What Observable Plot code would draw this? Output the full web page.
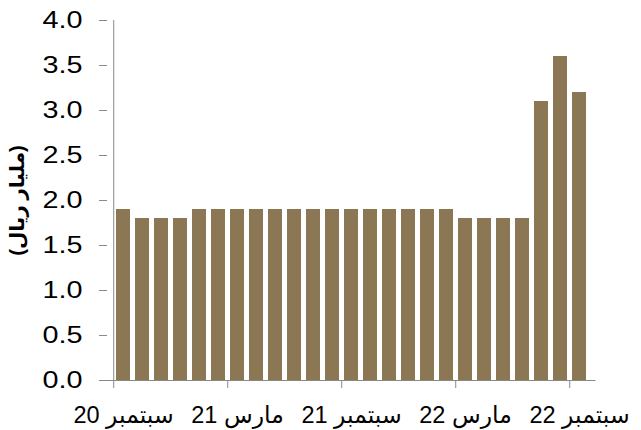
<!DOCTYPE html>
<html>
<head>
<meta charset="utf-8">
<script src="https://cdn.jsdelivr.net/npm/d3@7"></script>
<script src="https://cdn.jsdelivr.net/npm/@observablehq/plot@0.6"></script>
<style>
  html, body { margin: 0; padding: 0; background: #fff; }
  #chart svg { display: block; }
</style>
</head>
<body>
<div id="chart"></div>
<script>
const months = [
  "2020-09","2020-10","2020-11","2020-12","2021-01","2021-02","2021-03","2021-04","2021-05",
  "2021-06","2021-07","2021-08","2021-09","2021-10","2021-11","2021-12","2022-01","2022-02",
  "2022-03","2022-04","2022-05","2022-06","2022-07","2022-08","2022-09"
];
const values = [
  1.9, 1.8, 1.8, 1.8, 1.9, 1.9, 1.9, 1.9, 1.9,
  1.9, 1.9, 1.9, 1.9, 1.9, 1.9, 1.9, 1.9, 1.9,
  1.8, 1.8, 1.8, 1.8, 3.1, 3.6, 3.2
];
const labelMonths = ["2020-09","2021-03","2021-09","2022-03","2022-09"];
const labelTexts = ["سبتمبر 20","مارس 21","سبتمبر 21","مارس 22","سبتمبر 22"];
const yTicks = [0, 0.5, 1, 1.5, 2, 2.5, 3, 3.5, 4];
const yTitle = "(مليار ريال)";

const data = months.map((m, i) => ({month: m, value: values[i]}));
const labelOf = new Map(labelMonths.map((m, i) => [m, labelTexts[i]]));

const W = 641, H = 430, mL = 107, mR = 45.5, mT = 20, mB = 50;
const step = (W - mL - mR) / months.length;
const axisColor = "#898989";
const font = "'Liberation Sans', Arial, 'DejaVu Sans', sans-serif";

const chart = Plot.plot({
  width: W,
  height: H,
  marginLeft: mL,
  marginRight: mR,
  marginTop: mT,
  marginBottom: mB,
  style: {fontFamily: font, background: "#fff", color: "#000"},
  x: {type: "band", domain: months, paddingInner: 0.28, paddingOuter: 0.14, axis: null},
  y: {domain: [0, 4], axis: null},
  marks: [
    Plot.barY(data, {x: "month", y: "value", fill: "#8B7753"}),
    // y axis
    Plot.axisY({ticks: yTicks, tickFormat: d3.format(".1f"), tickSize: 8, tickPadding: 17,
      fontSize: 23, stroke: axisColor, color: "#000", label: null, ariaLabel: "y-axis"}),
    Plot.ruleX([months[0]], {y1: 0, y2: 4, dx: -step / 2, stroke: axisColor}),
    // x axis
    Plot.ruleY([0], {stroke: axisColor}),
    Plot.axisX({ticks: labelMonths, tickFormat: () => "", tickSize: 8, dx: -step / 2,
      stroke: axisColor, label: null}),
    Plot.axisX({ticks: labelMonths, tickFormat: d => labelOf.get(d), tickSize: 0, tickPadding: 26,
      fontSize: 23.5, color: "#000", label: null}),
    // y title
    Plot.text([yTitle], {frameAnchor: "left", rotate: -90, dx: -89.5, textAnchor: "middle",
      fontSize: 20, fontWeight: "bold", fill: "#000"})
  ]
});
// the reference's y tick labels are drawn slightly wider than the font's natural width
d3.select(chart).selectAll('g[aria-label="y-axis tick label"] text')
  .attr("textLength", 40).attr("lengthAdjust", "spacingAndGlyphs");
document.getElementById("chart").append(chart);
</script>
</body>
</html>
